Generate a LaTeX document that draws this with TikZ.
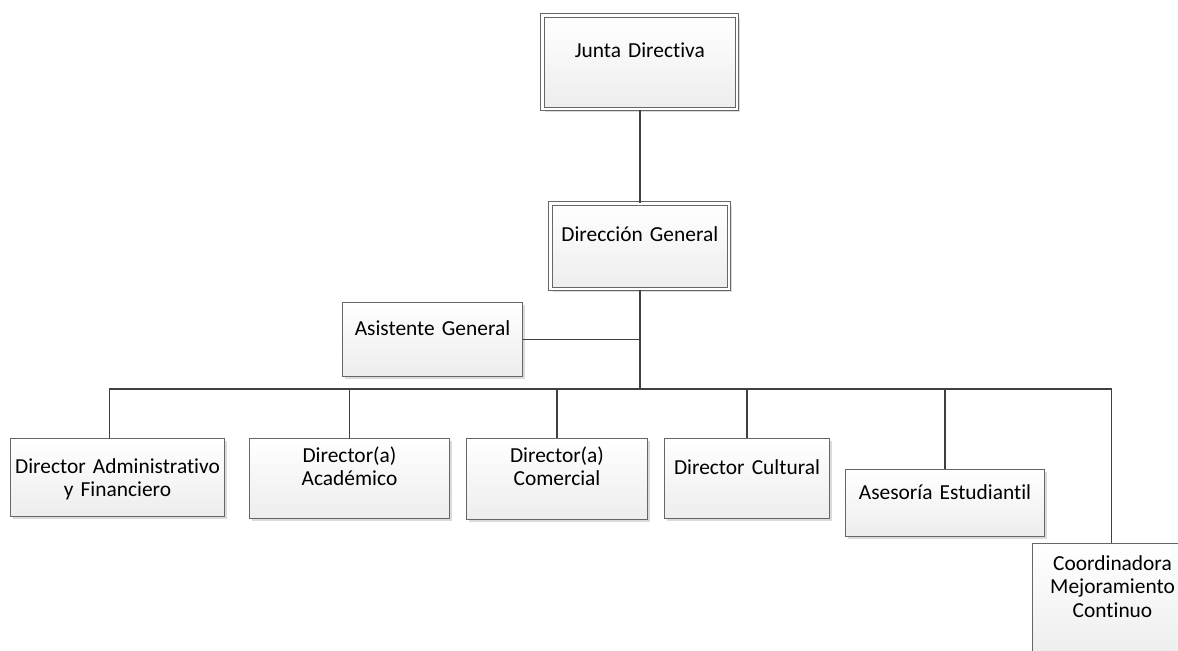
\documentclass[tikz,border=0pt]{standalone}
\usepackage{fontspec}
\setmainfont{Carlito}[Ligatures=NoCommon]
\usetikzlibrary{shadows}
\begin{document}
\begin{tikzpicture}[
    x=0.5pt, y=-0.5pt,
    unit/.style={draw=black!60, line width=0.5pt, anchor=north west, inner sep=0pt,
      align=center, top color=white, bottom color=black!7,
      drop shadow={shadow xshift=1.2pt, shadow yshift=-1.2pt, fill=black!14, opacity=1},
      font=\fontsize{10.7}{11.7}\selectfont},
    head/.style={unit, double, double distance=1.2pt},
    link/.style={draw=black!75, line width=0.8pt}
  ]
    \useasboundingbox (0,0) rectangle (1178,650);

    \node[head, text width=97.3pt, text height=20.9pt, text depth=25.9pt] (junta) at (542,15) {Junta Directiva};
    \node[head, text width=89.3pt, text height=18.9pt, text depth=23.9pt] (direccion) at (550,203) {Dirección General};
    \node[unit, text width=90pt, text height=16.5pt, text depth=20.5pt] (asistente) at (342,302) {Asistente General};

    \node[unit, text width=107pt, text height=17.5pt, text depth=21.5pt] (adm) at (10,438) {Director Administrativo\\y Financiero};
    \node[unit, text width=100pt, text height=12pt, text depth=28pt] (acad) at (249,438) {Director(a)\\Académico};
    \node[unit, text width=90.5pt, text height=12pt, text depth=28.5pt] (comercial) at (466,438) {Director(a)\\Comercial};
    \node[unit, text width=82.5pt, text height=18pt, text depth=22pt] (cultural) at (664,438) {Director Cultural};
    \node[unit, text width=99.5pt, text height=15pt, text depth=18.5pt] (asesoria) at (845,469) {Asesoría Estudiantil};
    \node[unit, text width=80pt, text height=13.5pt, text depth=45pt] (coord) at (1032,543) {Coordinadora\\Mejoramiento\\Continuo};

    \coordinate (level) at (0,389);
    \coordinate (bus) at (direccion.south |- level);

    \draw[link] (junta.south) -- (direccion.north);
    \draw[link] (direccion.south) -- (bus);
    \draw[link] (asistente.east) -- (asistente.east -| direccion.south);
    \draw[link] ([xshift=-4pt]adm.north) |- (bus);
    \foreach \n in {acad,comercial,cultural,asesoria} {
        \draw[link] (\n.north) |- (bus);
    }
    \draw[link] ([xshift=-0.5pt]coord.north) |- (bus);
\end{tikzpicture}
\end{document}
